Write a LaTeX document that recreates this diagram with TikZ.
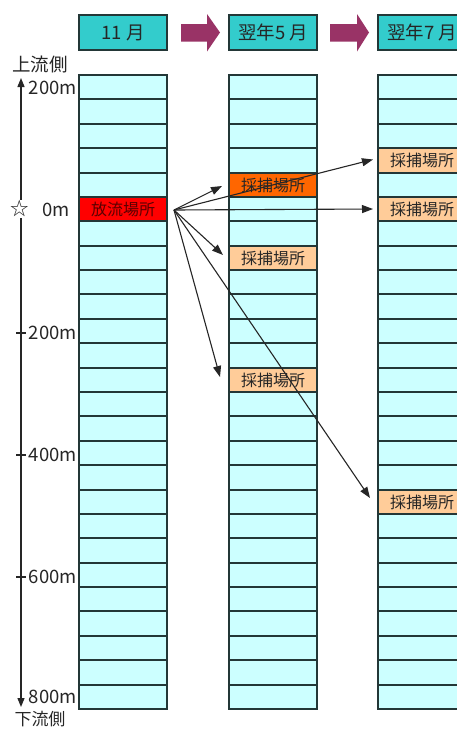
\documentclass[tikz,border=0pt]{standalone}
\usepackage{fontspec}
\setmainfont{Noto Sans CJK JP}
\usetikzlibrary{arrows.meta,calc}
\definecolor{cellc}{RGB}{204,255,255}
\definecolor{headc}{RGB}{51,204,204}
\definecolor{arrc}{RGB}{153,51,102}
\definecolor{relc}{RGB}{255,0,0}
\definecolor{orc}{RGB}{255,102,0}
\definecolor{pchc}{RGB}{255,204,153}
\definecolor{gridc}{RGB}{35,55,55}
\definecolor{reltext}{RGB}{90,0,0}
\begin{document}
\begin{tikzpicture}[x=1pt,y=-1pt,
  cell/.style={draw=gridc, line width=1.6pt, fill=cellc, minimum width=88pt,
    inner sep=0pt, outer sep=0pt, anchor=north west},
  head/.style={draw=gridc, line width=1.6pt, fill=headc, minimum width=88pt,
    minimum height=35pt, inner sep=0pt, outer sep=0pt, anchor=north west,
    font=\fontsize{18.5}{18.5}\selectfont, text=black!85},
  lbl/.style={font=\fontsize{16}{16}\selectfont, text=black!85},
  axl/.style={font=\fontsize{18.5}{18.5}\selectfont, text=black!85, inner sep=0pt},
  flow/.style={line width=1.1pt, black!85, -{Triangle[width=8pt,length=11pt]}},
  bigarrow/.style={fill=arrc}]
\useasboundingbox (0,0) rectangle (457,729);
\clip (0,0) rectangle (457,729);
\fill[white] (0,0) rectangle (457,729);

% headers
\node[head] (h1) at (79,15) {11 月};
\node[head] (h2) at (229,15) {翌年5 月};
\node[head] (h3) at (378,15) {翌年7 月};

% block arrows between headers
\fill[bigarrow] ($(h1.east)+(14,-8.5)$) -- ++(26,0) -- ++(0,-10) -- ($(h1.east)+(53,0)$)
  -- ($(h1.east)+(40,19)$) -- ++(0,-10) -- ++(-26,0) -- cycle;
\fill[bigarrow] ($(h2.east)+(13,-8.5)$) -- ++(27,0) -- ++(0,-10) -- ($(h2.east)+(52,0)$)
  -- ($(h2.east)+(40,19)$) -- ++(0,-10) -- ++(-27,0) -- cycle;

% grid columns
\foreach \c/\x in {1/79,2/229,3/378}{
  \foreach \r in {0,...,25}{
    \pgfmathsetmacro\ya{75+round(\r*24.385)}
    \pgfmathsetmacro\hh{round((\r+1)*24.385)-round(\r*24.385)}
    \node[cell, minimum height=\hh pt] (c\c r\r) at (\x,\ya) {};
  }
}

% highlighted cells
\node[cell, minimum height=24pt, fill=relc, lbl, text=reltext] (rel) at (c1r5.north west) {放流場所};
\node[cell, minimum height=24pt, fill=orc, lbl] (k1) at (c2r4.north west) {採捕場所};
\node[cell, minimum height=24pt, fill=pchc, lbl] (k2) at (c2r7.north west) {採捕場所};
\node[cell, minimum height=24pt, fill=pchc, lbl] (k3) at (c2r12.north west) {採捕場所};
\node[cell, minimum height=25pt, fill=pchc, lbl] (k4) at (c3r3.north west) {採捕場所};
\node[cell, minimum height=24pt, fill=pchc, lbl] (k5) at (c3r5.north west) {採捕場所};
\node[cell, minimum height=24pt, fill=pchc, lbl] (k6) at (c3r17.north west) {採捕場所};

% axis
\coordinate (atop) at (21,78);
\coordinate (abot) at (21,707);
\draw[line width=1.3pt, black!85, {Triangle[width=7pt,length=9pt]}-{Triangle[width=7pt,length=9pt]}] (atop) -- (abot);
\foreach \y in {333,455,577}{
  \draw[line width=1.3pt, black!85] (16,\y) -- (26,\y);
}
\node[axl, anchor=east] (l200) at (77,88) {200m};
\node[axl, anchor=east] (lm200) at (77,333) {200m};
\node[axl, anchor=east] (l400) at (77,455) {400m};
\node[axl, anchor=east] (l600) at (77,577) {600m};
\node[axl, anchor=east] (l800) at (77,697) {800m};
\node[axl] (l0) at (56,210) {0m};
\node[axl, fill=white, inner sep=1pt] (star) at (20,209) {☆};
\node[axl] (up) at (40,64) {上流側};
\node[axl, font=\fontsize{17}{17}\selectfont] (down) at (40,719) {下流側};

% flow arrows from release point
\coordinate (src) at ($(rel.east)+(7,1)$);
\draw[flow] (src) -- ($(k1.west)+(-7,1)$);
\draw[flow] (src) -- ($(k4.west)+(-5,-1)$);
\draw[flow] (src) -- ($(k5.west)+(-5,0)$);
\draw[flow] (src) -- ($(k2.west)+(-6,-3)$);
\draw[flow] (src) -- ($(k3.west)+(-9,-3)$);
\draw[flow] (src) -- ($(k6.west)+(-8,-4)$);
\end{tikzpicture}
\end{document}
